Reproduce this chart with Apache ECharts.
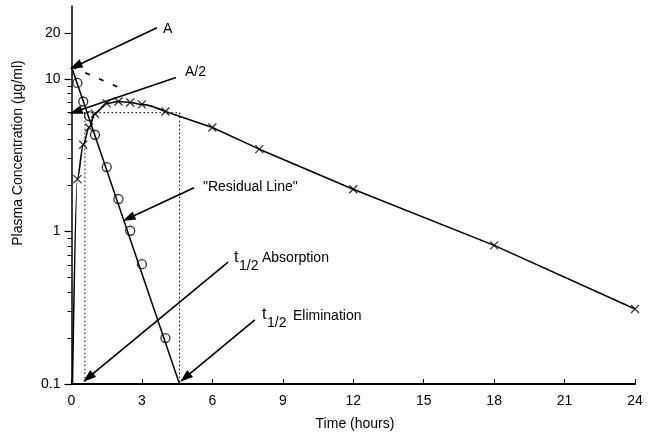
<!DOCTYPE html>
<html><head><meta charset="utf-8">
<script src="https://cdn.jsdelivr.net/npm/echarts@6/dist/echarts.min.js"></script>
<style>html,body{margin:0;padding:0;background:#fff}#c{width:650px;height:433px}</style>
</head><body><div id="c"></div>
<script>
// observed plasma concentrations (crosses)
const timesObs = [0.25, 0.5, 0.75, 1, 1.5, 2, 2.5, 3, 4, 6, 8, 12, 18, 24];
const concObs  = [2.2, 3.7, 4.8, 5.9, 6.9, 7.1, 7.0, 6.8, 6.1, 4.8, 3.46, 1.89, 0.81, 0.31];
// fitted curve starts from the bottom of the axis just after t=0
const curveStartT = [0.04];
const curveStartC = [0.1];
// residuals (circles)
const timesRes = [0.25, 0.5, 0.75, 1, 1.5, 2, 2.5, 3, 4];
const concRes  = [9.4, 7.1, 5.7, 4.3, 2.64, 1.63, 1.01, 0.61, 0.20];
// residual line (from A down to the axis)
const residLineT = [0, 4.6];
const residLineC = [12, 0.1];
// back-extrapolated elimination line (dashed)
const extrapT = [0, 2];
const extrapC = [12, 8.8];
// half-life construction
const halfLevel = 6;      // A/2
const tHalfAbs = 0.57;
const tHalfElim = 4.6;
// annotation arrows: tail -> arrowhead (data coords)
const arrowTailT = [3.64, 4.45, 5.22, 6.67, 7.81];
const arrowTailC = [21.6, 10.2, 1.93, 0.63, 0.263];
const arrowHeadT = [0.175, 0.18, 2.43, 0.71, 4.84];
const arrowHeadC = [12.1, 6.1, 1.22, 0.110, 0.110];
// axes
const xTicks = [0, 3, 6, 9, 12, 15, 18, 21, 24];
const yLabels = [0.1, 1, 10, 20];
const yMinor = [0.2,0.3,0.4,0.5,0.6,0.7,0.8,0.9,2,3,4,5,6,7,8,9];

const FONT = "'Liberation Sans', Arial, Helvetica, sans-serif";
const zip = (a, b) => a.map((v, i) => [v, b[i]]);
const chart = echarts.init(document.getElementById('c'), null, {renderer: 'canvas'});

const obsPairs = zip(timesObs, concObs);
const resPairs = zip(timesRes, concRes);
const splitIdx = timesObs.indexOf(4);
const risePairs = zip(curveStartT, curveStartC).concat(obsPairs.slice(0, splitIdx + 1));
const fallPairs = obsPairs.slice(splitIdx);

const crossPath = 'path://M0,0L10,10M10,0L0,10';

const option = {
  animation: false,
  backgroundColor: '#fff',
  grid: {left: 71.5, right: 15, top: 6, bottom: 49, containLabel: false},
  xAxis: {
    type: 'value', min: 0, max: 24, interval: 3,
    axisLine: {onZero: false, lineStyle: {color: '#000', width: 2}},
    axisTick: {inside: true, length: 5, lineStyle: {color: '#000', width: 1}},
    axisLabel: {color: '#000', fontSize: 14, fontFamily: FONT, margin: 10},
    splitLine: {show: false}
  },
  yAxis: [{
    type: 'log', logBase: 10, min: 0.1, max: 30,
    axisLine: {show: true, lineStyle: {color: '#000', width: 1.5}},
    axisTick: {show: true, length: 7, customValues: yLabels, lineStyle: {color: '#000', width: 1.2}},
    axisLabel: {color: '#000', fontSize: 14, fontFamily: FONT, margin: 11,
      customValues: yLabels, formatter: v => String(+(+v).toPrecision(3))},
    splitLine: {show: false}, minorTick: {show: false}
  }, {
    type: 'log', logBase: 10, min: 0.1, max: 30, position: 'left', offset: 0,
    axisLine: {show: false},
    axisTick: {show: true, length: 4, customValues: yMinor, lineStyle: {color: '#000', width: 1}},
    axisLabel: {show: false}, splitLine: {show: false}
  }],
  series: [
    { // residual line
      type: 'line', data: zip(residLineT, residLineC), symbol: 'none',
      lineStyle: {color: '#000', width: 1.5}, silent: true, z: 2
    },
    { // extrapolated elimination phase
      type: 'line', data: zip(extrapT, extrapC), symbol: 'none',
      lineStyle: {color: '#000', width: 1.8, type: [5, 10]}, silent: true, z: 2
    },
    { // half-life construction lines (dotted)
      type: 'line', data: [[0, halfLevel], [tHalfElim, halfLevel]], symbol: 'none',
      lineStyle: {color: '#000', width: 1, type: [1.5, 2.5]}, silent: true, z: 1
    },
    {
      type: 'line', data: [[tHalfAbs, halfLevel], [tHalfAbs, 0.1]], symbol: 'none',
      lineStyle: {color: '#000', width: 1, type: [1.5, 2.5]}, silent: true, z: 1
    },
    {
      type: 'line', data: [[tHalfElim, halfLevel], [tHalfElim, 0.1]], symbol: 'none',
      lineStyle: {color: '#000', width: 1, type: [1.5, 2.5]}, silent: true, z: 1
    },
    { // fitted concentration curve, absorption phase
      type: 'line', data: risePairs,
      symbol: 'none', smooth: 0.3, smoothMonotone: 'x',
      lineStyle: {color: '#000', width: 1.6}, silent: true, z: 3
    },
    { // elimination phase
      type: 'line', data: fallPairs, symbol: 'none',
      lineStyle: {color: '#000', width: 1.6}, silent: true, z: 3
    },
    { // crosses
      type: 'scatter', data: obsPairs, symbol: crossPath, symbolSize: 8,
      itemStyle: {color: 'none', borderColor: '#000', borderWidth: 1.3}, silent: true, z: 4
    },
    { // circles
      type: 'scatter', data: resPairs, symbol: 'circle', symbolSize: 9,
      itemStyle: {color: 'rgba(255,255,255,0)', borderColor: '#000', borderWidth: 1.3}, silent: true, z: 4
    },
    { // annotation arrows
      type: 'line', data: [], silent: true,
      markLine: {
        silent: true, animation: false,
        symbol: ['none', 'triangle'], symbolSize: [9, 13],
        label: {show: false},
        lineStyle: {color: '#000', width: 1.6, type: 'solid'},
        itemStyle: {color: '#000'},
        emphasis: {disabled: true},
        data: arrowTailT.map((t, i) => [
          {coord: [t, arrowTailC[i]]},
          {coord: [arrowHeadT[i], arrowHeadC[i]]}
        ])
      }
    }
  ],
  graphic: [
    {type: 'text', x: 18, y: 153, rotation: Math.PI / 2,
      style: {text: 'Plasma Concentration (\u00b5g/ml)', font: '14px ' + FONT, fill: '#000', align: 'center', verticalAlign: 'middle'}},
    {type: 'text', x: 355, y: 424,
      style: {text: 'Time (hours)', font: '14px ' + FONT, fill: '#000', align: 'center', verticalAlign: 'middle'}},
    {type: 'text', x: 163, y: 29, style: {text: 'A', font: '14px ' + FONT, fill: '#000', verticalAlign: 'middle'}},
    {type: 'text', x: 185, y: 72, style: {text: 'A/2', font: '14px ' + FONT, fill: '#000', verticalAlign: 'middle'}},
    {type: 'text', x: 203, y: 187, style: {text: '"Residual Line"', font: '14px ' + FONT, fill: '#000', verticalAlign: 'middle'}},
    {type: 'text', x: 234, y: 258, style: {text: 't', font: '16px ' + FONT, fill: '#000', verticalAlign: 'middle'}},
    {type: 'text', x: 239, y: 266, style: {text: '1/2', font: '14px ' + FONT, fill: '#000', verticalAlign: 'middle'}},
    {type: 'text', x: 262, y: 258, style: {text: 'Absorption', font: '14px ' + FONT, fill: '#000', verticalAlign: 'middle'}},
    {type: 'text', x: 262, y: 315, style: {text: 't', font: '16px ' + FONT, fill: '#000', verticalAlign: 'middle'}},
    {type: 'text', x: 267, y: 323, style: {text: '1/2', font: '14px ' + FONT, fill: '#000', verticalAlign: 'middle'}},
    {type: 'text', x: 293, y: 316, style: {text: 'Elimination', font: '14px ' + FONT, fill: '#000', verticalAlign: 'middle'}}
  ]
};
chart.setOption(option);
</script>
</body></html>
